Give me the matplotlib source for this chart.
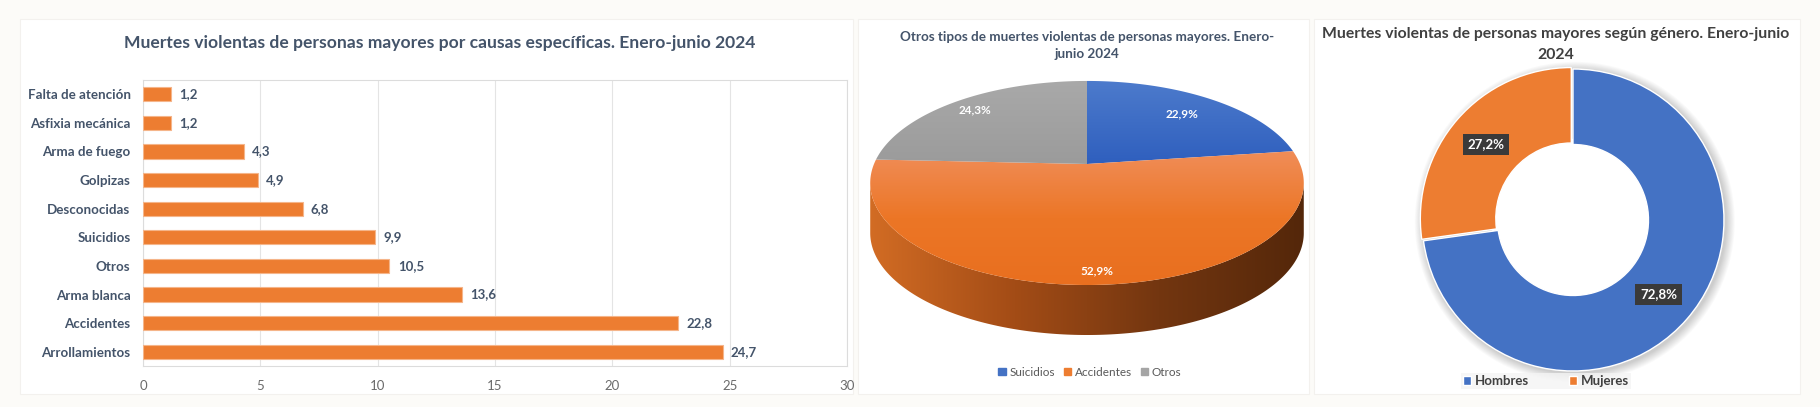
import numpy as np
import matplotlib
matplotlib.use("Agg")
import matplotlib.pyplot as plt
from matplotlib.patches import Rectangle, Polygon, Patch, Wedge
from matplotlib.colors import LinearSegmentedColormap

plt.rcParams["font.family"] = ["Lato", "DejaVu Sans"]

W, H = 1820, 407
BG = "#fcfbf8"
ORANGE = "#ed7d31"
BLUE = "#4472c4"
GRAY = "#a5a5a5"
SLATE = "#44546a"
TXT = "#404040"

# bar chart data (top to bottom)
causas = ["Falta de atención", "Asfixia mecánica", "Arma de fuego", "Golpizas",
          "Desconocidas", "Suicidios", "Otros", "Arma blanca", "Accidentes",
          "Arrollamientos"]
causas_pct = [1.2, 1.2, 4.3, 4.9, 6.8, 9.9, 10.5, 13.6, 22.8, 24.7]
x_ticks = [0, 5, 10, 15, 20, 25, 30]

# 3d pie data
otros_tipos = ["Suicidios", "Accidentes", "Otros"]
otros_pct = [22.9, 52.9, 24.3]

# donut data
genero = ["Hombres", "Mujeres"]
genero_pct = [72.8, 27.2]


def px_axes(fig, x0, y0, x1, y1):
    # axes placed by pixel box (y measured from the top)
    return fig.add_axes([x0 / W, 1 - y1 / H, (x1 - x0) / W, (y1 - y0) / H])


def fmt(v):
    return f"{v:.1f}".replace(".", ",")


def gradient_fill(ax, xy, colors, horizontal=False, zorder=2):
    poly = Polygon(xy, closed=True, facecolor="none", edgecolor="none")
    ax.add_patch(poly)
    cmap = LinearSegmentedColormap.from_list("g", colors)
    x0, x1 = xy[:, 0].min(), xy[:, 0].max()
    y0, y1 = xy[:, 1].min(), xy[:, 1].max()
    if horizontal:
        grad = np.linspace(0, 1, 256)[None, :]
    else:
        grad = np.linspace(0, 1, 256)[:, None]
    im = ax.imshow(grad, cmap=cmap, extent=(x0, x1, y1, y0), aspect="auto",
                   zorder=zorder, interpolation="bilinear")
    im.set_clip_path(poly)


fig = plt.figure(figsize=(W / 100, H / 100), dpi=100, facecolor=BG)

# white panels behind each chart
bg = fig.add_axes([0, 0, 1, 1])
bg.set_xlim(0, W)
bg.set_ylim(H, 0)
bg.axis("off")
for x0, x1 in [(20, 853), (858, 1309), (1314, 1800)]:
    bg.add_patch(Rectangle((x0, 19), x1 - x0, 375, facecolor="white",
                           edgecolor="#f3f1ee", linewidth=0.8))

# ---- horizontal bars ----
ax = px_axes(fig, 143, 80, 847, 366)
ypos = np.arange(len(causas))
ax.barh(ypos, causas_pct, height=0.5, color=ORANGE, edgecolor="#f5b58a",
        linewidth=0.8, zorder=3)
for yi, v in zip(ypos, causas_pct):
    ax.annotate(fmt(v), (v, yi), xytext=(6, 0), textcoords="offset points",
                va="center", ha="left", fontsize=9.5, fontweight="bold",
                color=SLATE)
ax.set_xlim(0, 30)
ax.set_ylim(len(causas) - 0.5, -0.5)
ax.set_xticks(x_ticks)
ax.set_xticklabels([str(t) for t in x_ticks])
ax.set_yticks(ypos)
ax.set_yticklabels(causas, fontweight="bold")
ax.tick_params(axis="y", length=0, pad=9, labelsize=9.6, labelcolor=SLATE)
ax.tick_params(axis="x", length=0, pad=10, labelsize=9.5, labelcolor="#6b6b6b")
ax.grid(axis="x", color="#e4e4e4", linewidth=0.8, zorder=0)
for sp in ax.spines.values():
    sp.set_color("#dcdcdc")
    sp.set_linewidth(0.8)
fig.text(440 / W, 1 - 43 / H,
         "Muertes violentas de personas mayores por causas específicas. Enero-junio 2024",
         ha="center", va="center", fontsize=12.6, fontweight="bold", color=SLATE)

# ---- 3d pie ----
K = 0.186          # perspective strength
S, T = 213, 98.5   # horizontal / vertical scale in px
PCX, PCY = 1087, 164
DEPTH = 50


def proj(phi_deg, r=1.0):
    ph = np.radians(phi_deg)
    u, v = r * np.cos(ph), r * np.sin(ph)
    d = 1 + K * v
    return PCX + S * u / d, PCY - T * v / d


pax = px_axes(fig, 860, 60, 1310, 350)
pax.axis("off")

# visible side wall of the cylinder
lim = np.degrees(np.arcsin(K))
phis = np.linspace(180 + lim, 360 - lim, 200)
tx, ty = proj(phis)
side = np.column_stack([np.r_[tx, tx[::-1]], np.r_[ty, ty[::-1] + DEPTH]])
gradient_fill(pax, side, ["#d26c24", "#a34c16", "#733610", "#54270a"],
              horizontal=True, zorder=1)

top_colors = [["#4d7bcc", "#2f5fbe"],
              ["#f08d58", "#ec7626", "#e96f1f"],
              ["#a9a9a9", "#9b9b9b"]]
label_r = [0.75, 0.9, 0.85]
cum = np.r_[0, np.cumsum(otros_pct)] / np.sum(otros_pct) * 360
for i, name in enumerate(otros_tipos):
    a1 = 90 - cum[i]
    a2 = 90 - cum[i + 1]
    arc = np.linspace(a2, a1, 200)
    ax_, ay_ = proj(arc)
    wedge = np.column_stack([np.r_[PCX, ax_], np.r_[PCY, ay_]])
    gradient_fill(pax, wedge, top_colors[i], zorder=2)
    lx, ly = proj((a1 + a2) / 2, label_r[i])
    pax.text(lx, ly, fmt(otros_pct[i]) + "%", ha="center", va="center",
             fontsize=8.5, fontweight="bold", color="white", zorder=5)

pax.set_xlim(860, 1310)
pax.set_ylim(350, 60)

fig.text(1087 / W, 1 - 37 / H,
         "Otros tipos de muertes violentas de personas mayores. Enero-",
         ha="center", va="center", fontsize=9.7, fontweight="bold", color=SLATE)
fig.text(1087 / W, 1 - 54 / H, "junio 2024",
         ha="center", va="center", fontsize=9.7, fontweight="bold", color=SLATE)

pie_handles = [Patch(color=c) for c in [BLUE, ORANGE, GRAY]]
leg = fig.legend(pie_handles, otros_tipos, loc="center",
                 bbox_to_anchor=(1090 / W, 1 - 372 / H), ncol=3, frameon=False,
                 fontsize=8.5, handlelength=0.6, handleheight=0.6,
                 handletextpad=0.3, columnspacing=0.8)
for t in leg.get_texts():
    t.set_color("#595959")

# ---- donut ----
dax = px_axes(fig, 1403, 50, 1743, 390)
# soft shadow ring behind the donut
for i in range(10):
    r = 1.0 + 0.006 * (i + 1)
    dax.add_patch(Wedge((0.012, -0.012), r, 0, 360, width=r - 0.55,
                        facecolor="#000000", alpha=0.018, edgecolor="none",
                        zorder=0))
wedges, texts, autotexts = dax.pie(
    genero_pct, colors=[BLUE, ORANGE], startangle=90, counterclock=False,
    explode=[0, 0.015], wedgeprops=dict(width=0.5, edgecolor="white", linewidth=1.0),
    autopct=lambda p: fmt(p) + "%", pctdistance=0.75,
    textprops=dict(color="white", fontsize=9.5, fontweight="bold"))
for w in wedges:
    w.set_zorder(2)
for t in autotexts:
    t.set_zorder(4)
    t.set_bbox(dict(boxstyle="square,pad=0.35", facecolor="#3a3a3a",
                    edgecolor="none"))
dax.set_aspect("equal")
dax.set_xlim(-1.126, 1.126)
dax.set_ylim(-1.126, 1.126)

fig.text(1556 / W, 1 - 34 / H,
         "Muertes violentas de personas mayores según género. Enero-junio",
         ha="center", va="center", fontsize=11.3, fontweight="bold", color=TXT)
fig.text(1556 / W, 1 - 55 / H, "2024",
         ha="center", va="center", fontsize=11.3, fontweight="bold", color=TXT)

leg2 = fig.legend(wedges, genero, loc="center",
                  bbox_to_anchor=(1546 / W, 1 - 381 / H), ncol=2, frameon=True,
                  fontsize=9.5, handlelength=0.6, handleheight=0.6,
                  handletextpad=0.3, columnspacing=3.0, fancybox=False,
                  borderpad=0.15)
leg2.get_frame().set_facecolor("#f4f4f4")
leg2.get_frame().set_edgecolor("none")
for t in leg2.get_texts():
    t.set_color(TXT)
    t.set_fontweight("bold")

fig.savefig("out.png", dpi=100, facecolor=BG)
